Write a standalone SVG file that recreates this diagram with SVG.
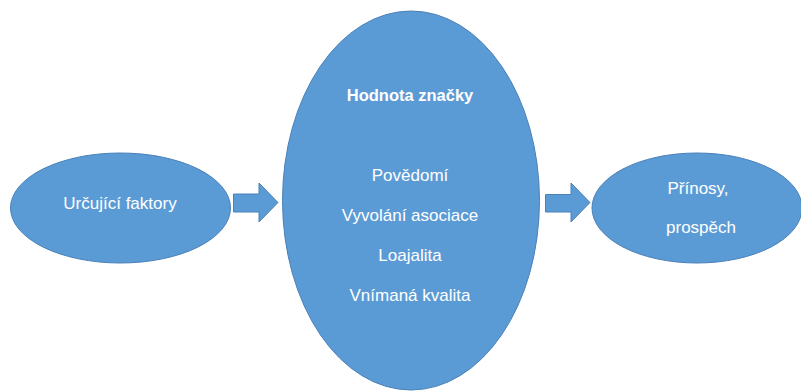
<svg xmlns="http://www.w3.org/2000/svg" width="801" height="391" viewBox="0 0 801 391">
<style>
.shape{fill:#5B9BD5;stroke:#4A80B8;stroke-width:1}
.t{font-family:"Liberation Sans",Arial,sans-serif;font-size:17px;fill:#FFFFFF;text-anchor:middle}
.b{font-weight:bold;font-size:16.5px}
</style>
<rect width="801" height="391" fill="#FFFFFF"/>
<g id="urcujici">
<ellipse class="shape" cx="120.5" cy="208" rx="110" ry="55"/>
<text class="t" x="120" y="208.5">Určující faktory</text>
</g>
<g id="hodnota">
<ellipse class="shape" cx="411" cy="200.5" rx="128.5" ry="189.5"/>
<text class="t b" x="410" y="101">Hodnota značky</text>
<text class="t" x="410" y="180.5">Povědomí</text>
<text class="t" x="410" y="220.5">Vyvolání asociace</text>
<text class="t" x="410" y="260.5">Loajalita</text>
<text class="t" x="410" y="301">Vnímaná kvalita</text>
</g>
<g id="prinosy">
<ellipse class="shape" cx="697" cy="208" rx="105" ry="55"/>
<text class="t" x="698" y="194">Přínosy,</text>
<text class="t" x="701" y="233">prospěch</text>
</g>
<g id="connectors">
<path class="shape" d="M233.5,194 H259 V183 L278,202.5 L259,222 V212 H233.5 Z"/>
<path class="shape" d="M545.5,194.5 H571 V183 L590,202.5 L571,222 V212 H545.5 Z"/>
</g>
</svg>
